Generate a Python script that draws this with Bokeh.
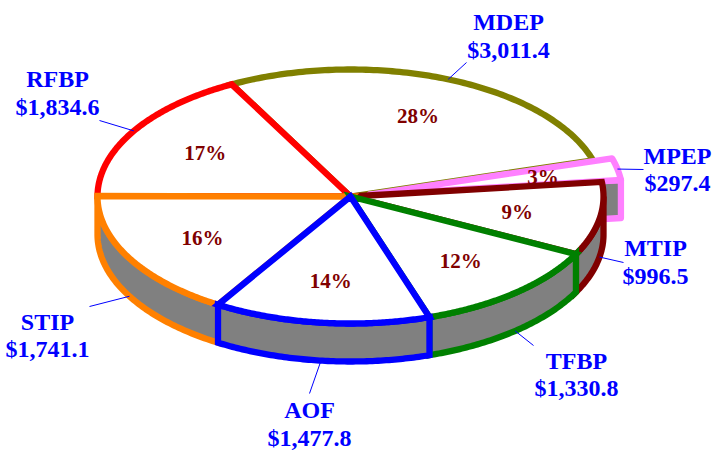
import numpy as np
from bokeh.plotting import figure
from bokeh.models import Range1d
from bokeh.core.properties import value
from bokeh.embed import file_html
from bokeh.resources import INLINE

# Budget by program ($ millions)
names = ["MDEP", "MPEP", "MTIP", "TFBP", "AOF", "STIP", "RFBP"]
amounts = [3011.4, 297.4, 996.5, 1330.8, 1477.8, 1741.1, 1834.6]
edge_colors = ["#808000", "#FF80FF", "#800000", "#008000", "#0000FF", "#FF8000", "#FF0000"]
explode = [0.0, 0.077, 0.0, 0.0, 0.0, 0.0, 0.0]

# label layout: centre of each two-line callout and end of its leader line
label_centers = [(508, 35.5), (677, 169), (655, 261.5), (576, 374), (309, 423.5), (47, 335), (57, 92.5)]
leader_ends = [(466, 62), (643, 169), (623, 262), (533, 345), (309, 393), (89, 306), (99, 120)]
# radial position of the percentage inside each slice
pct_radius = [0.69, 0.70, 0.67, 0.67, 0.67, 0.67, 0.67]

# pie geometry in page pixels
CX, CY, RX, RY, DEPTH = 350.0, 196.0, 253.0, 127.0, 38.0
START = 118.0          # first slice starts here and runs clockwise
LW = 6.3
SIDE = "#808080"

total = sum(amounts)
fracs = [a / total for a in amounts]


def ell(theta, ox=0.0, oy=0.0, dz=0.0, r=1.0):
    t = np.radians(theta)
    return CX + ox + r * RX * np.cos(t), CY + oy + dz - r * RY * np.sin(t)


p = figure(width=712, height=450, x_range=Range1d(0, 712), y_range=Range1d(450, 0),
           output_backend="svg", toolbar_location=None, min_border=0,
           x_axis_type=None, y_axis_type=None)
p.grid.visible = False
p.outline_line_color = None
p.background_fill_color = "white"

slices = []
acc = 0.0
for i, f in enumerate(fracs):
    a1 = START - acc * 360.0
    a2 = a1 - f * 360.0
    mid = (a1 + a2) / 2.0
    tm = np.radians(mid)
    ox = explode[i] * RX * np.cos(tm)
    oy = -explode[i] * RY * np.sin(tm)
    slices.append(dict(i=i, a1=a1, a2=a2, mid=mid, ox=ox, oy=oy))
    acc += f


def front_distance(s):
    m = (s["mid"] + 90.0) % 360.0
    return min(m, 360.0 - m)


# paint from the back of the pie towards the viewer
order = sorted(slices, key=front_distance, reverse=True)

for s in order:
    i, a1, a2, ox, oy = s["i"], s["a1"], s["a2"], s["ox"], s["oy"]
    col = edge_colors[i]
    join = "round" if explode[i] > 0 else "miter"
    # visible outer wall (front half only)
    hi, lo = min(a1, 0.0), max(a2, -180.0)
    if hi > lo:
        th = np.linspace(hi, lo, 80)
        tx, ty = ell(th, ox, oy)
        bx, by = ell(th[::-1], ox, oy, DEPTH)
        p.patch(np.concatenate([tx, bx]), np.concatenate([ty, by]),
                fill_color=SIDE, line_color=col, line_width=LW, line_join=join)
    # cut face of an exploded slice
    if explode[i] > 0:
        ex, ey = ell(a2, ox, oy)
        xs = [CX + ox, ex, ex, CX + ox]
        ys = [CY + oy, ey, ey + DEPTH, CY + oy + DEPTH]
        p.patch(xs, ys, fill_color=SIDE, line_color=col, line_width=LW, line_join=join)
    # top face
    th = np.linspace(a1, a2, 120)
    ax, ay = ell(th, ox, oy)
    xs = np.concatenate([[CX + ox], ax])
    ys = np.concatenate([[CY + oy], ay])
    p.patch(xs, ys, fill_color="white", line_color=col, line_width=LW, line_join=join)
    # percentage inside the slice
    lx, ly = ell(s["mid"], ox, oy, r=pct_radius[i])
    p.text(x=[lx], y=[ly], text=[f"{round(fracs[i] * 100)}%"],
           text_font=value("Liberation Serif"), text_font_style="bold",
           text_font_size="21px", text_color="#800000",
           text_align="center", text_baseline="middle")

# leader lines and callouts
for s in slices:
    i = s["i"]
    t = np.radians(s["mid"])
    dz = DEPTH if np.sin(t) < 0 else 0.0
    sx, sy = ell(s["mid"], s["ox"], s["oy"], dz)
    ex, ey = leader_ends[i]
    p.segment(x0=[sx], y0=[sy], x1=[ex], y1=[ey], line_color="#0000FF", line_width=1)
    cx, cy = label_centers[i]
    p.text(x=[cx, cx], y=[cy - 13.75, cy + 13.75],
           text=[names[i], f"${amounts[i]:,.1f}"],
           text_font=value("Liberation Serif"), text_font_style="bold",
           text_font_size="24px", text_color="#0000FF",
           text_align="center", text_baseline="middle")

open("out.html", "w").write(file_html(p, INLINE))
